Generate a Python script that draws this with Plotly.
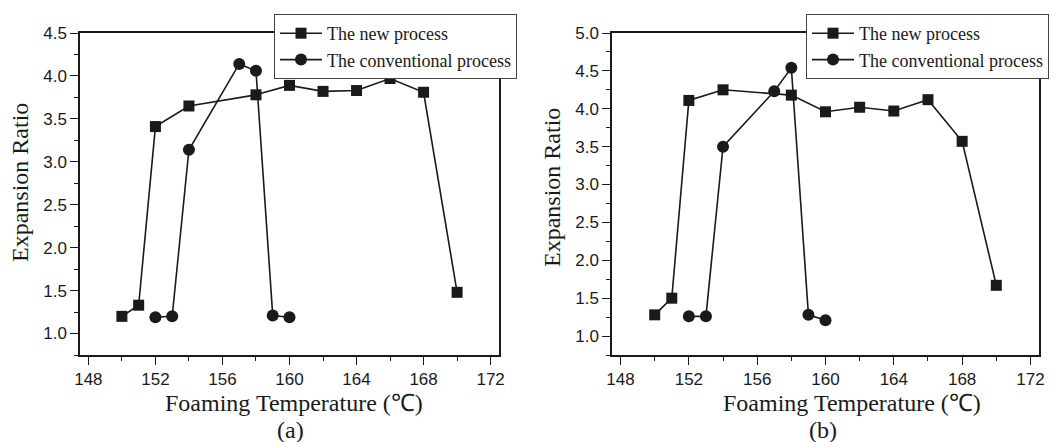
import plotly.graph_objects as go

# Panel (a)
a_new_x = [150, 151, 152, 154, 158, 160, 162, 164, 166, 168, 170]
a_new_y = [1.20, 1.33, 3.41, 3.65, 3.78, 3.89, 3.82, 3.83, 3.97, 3.81, 1.48]
a_conv_x = [152, 153, 154, 157, 158, 159, 160]
a_conv_y = [1.19, 1.20, 3.14, 4.14, 4.06, 1.21, 1.19]

# Panel (b)
b_new_x = [150, 151, 152, 154, 158, 160, 162, 164, 166, 168, 170]
b_new_y = [1.28, 1.50, 4.11, 4.25, 4.18, 3.96, 4.02, 3.97, 4.12, 3.57, 1.67]
b_conv_x = [152, 153, 154, 157, 158, 159, 160]
b_conv_y = [1.26, 1.26, 3.50, 4.23, 4.54, 1.28, 1.21]

names = ["The new process", "The conventional process"]
panel_labels = ["(a)", "(b)"]
x_title = "Foaming Temperature (℃)"
y_title = "Expansion Ratio"

# page body has an 8px margin: figure is drawn from (8, 8) of the window
OFF = 8
W, H = 1063 - OFF, 442 - OFF
serif = "Liberation Serif, Times New Roman, serif"
sans = "Liberation Sans, Arial, sans-serif"
ink = "#1a1a1a"


def px(x):
    return (x - OFF) / W


def py(y):
    return 1 - (y - OFF) / H


fig = go.Figure()


def add(x, y, name, symbol, size, xa, ya, legend):
    fig.add_trace(go.Scatter(
        x=x, y=y, name=name, mode="lines+markers",
        line=dict(color=ink, width=1.6),
        marker=dict(symbol=symbol, size=size, color=ink),
        xaxis=xa, yaxis=ya, legend=legend, showlegend=True))


add(a_new_x, a_new_y, names[0], "square", 11, "x", "y", "legend")
add(a_conv_x, a_conv_y, names[1], "circle", 12, "x", "y", "legend")
add(b_new_x, b_new_y, names[0], "square", 11, "x2", "y2", "legend2")
add(b_conv_x, b_conv_y, names[1], "circle", 12, "x2", "y2", "legend2")


def xaxis(domain, anchor):
    return dict(domain=domain, anchor=anchor, range=[147.5, 172.5], automargin=False,
                tick0=148, dtick=4, ticks="outside", ticklen=8, tickwidth=1.3,
                tickcolor=ink, showline=True, linecolor=ink, linewidth=1.5,
                mirror=True, showgrid=False, zeroline=False,
                tickfont=dict(family=sans, size=17, color=ink),
                minor=dict(dtick=2, ticks="outside", ticklen=4, tickcolor=ink, tickwidth=1.2))


def yaxis(domain, anchor, top):
    return dict(domain=domain, anchor=anchor, range=[0.75, top], automargin=False,
                tick0=1.0, dtick=0.5, tickformat=".1f", ticks="outside", ticklen=8,
                tickwidth=1.3, tickcolor=ink, showline=True, linecolor=ink,
                linewidth=1.5, mirror=True, showgrid=False, zeroline=False,
                tickfont=dict(family=sans, size=17, color=ink),
                minor=dict(dtick=0.25, ticks="outside", ticklen=4, tickcolor=ink, tickwidth=1.2))


ydom = [py(355), py(33)]

legend_common = dict(xanchor="left", yanchor="top", bgcolor="white",
                     bordercolor="#444", borderwidth=1,
                     font=dict(family=serif, size=18, color=ink),
                     tracegroupgap=0, itemwidth=42)


def ann(text, x, y, angle=0):
    return dict(text=text, x=px(x), y=py(y), xref="paper", yref="paper",
                xanchor="center", yanchor="middle", textangle=angle,
                showarrow=False, font=dict(family=serif, size=24, color=ink))


annotations = [
    ann(y_title, 20, 183, -90),
    ann(y_title, 552, 188, -90),
    ann(x_title, 294, 403),
    ann(x_title, 852, 403),
    ann(panel_labels[0], 290, 430),
    ann(panel_labels[1], 823, 430),
]

fig.update_layout(
    template="none",
    width=W, height=H,
    margin=dict(l=0, r=0, t=0, b=0, pad=0),
    paper_bgcolor="white", plot_bgcolor="white",
    xaxis=xaxis([px(80), px(499)], "y"),
    yaxis=yaxis(ydom, "x", 4.5),
    xaxis2=xaxis([px(612), px(1039)], "y2"),
    yaxis2=yaxis(ydom, "x2", 5.0),
    legend=dict(x=px(274), y=py(14), **legend_common),
    legend2=dict(x=px(806), y=py(14), **legend_common),
    annotations=annotations,
)

fig.write_html("out.html")
